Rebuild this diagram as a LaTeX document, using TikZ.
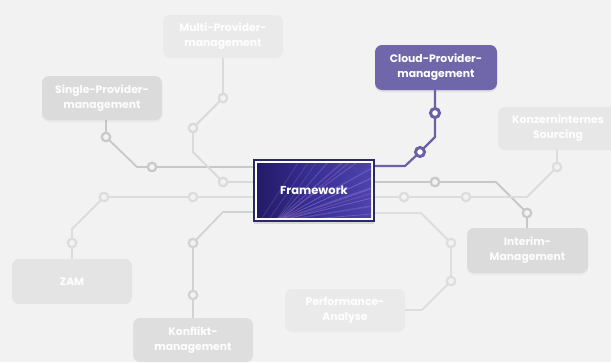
\documentclass[tikz,border=0pt]{standalone}
\usepackage{fontspec}
\setmainfont{Poppins}
\usetikzlibrary{shadows}
\definecolor{bgc}{HTML}{F2F2F2}
\definecolor{singleF}{HTML}{DBDBDB}\definecolor{singleL}{HTML}{C8C8C8}
\definecolor{multiF}{HTML}{EAEAEA}\definecolor{multiL}{HTML}{DADADA}
\definecolor{cloudF}{HTML}{6F67A9}\definecolor{cloudL}{HTML}{6A61A5}
\definecolor{konzF}{HTML}{E7E7E7}\definecolor{konzL}{HTML}{DCDCDC}
\definecolor{zamF}{HTML}{E4E4E4}\definecolor{zamL}{HTML}{DCDCDC}
\definecolor{konfF}{HTML}{DEDEDE}\definecolor{konfL}{HTML}{D2D2D2}
\definecolor{perfF}{HTML}{EAEAEA}\definecolor{perfL}{HTML}{DEDEDE}
\definecolor{intF}{HTML}{DBDBDB}\definecolor{intL}{HTML}{C8C8C8}
\definecolor{fwBorder}{HTML}{2B2868}
\definecolor{fwDark}{HTML}{231A66}
\definecolor{fwMid}{HTML}{3A2F96}
\definecolor{fwLight}{HTML}{4E42AC}
\definecolor{streak}{HTML}{A396E6}
\definecolor{pinkstreak}{HTML}{B46CC4}
\pgfdeclarelayer{bgl}\pgfdeclarelayer{lines}
\pgfsetlayers{bgl,lines,main}
\tikzset{
  box/.style={rounded corners=7pt, minimum width=120pt, minimum height=44pt,
    align=center, inner sep=0pt, text=white,
    font=\bfseries\fontsize{10.8}{15}\selectfont},
  dot/.style={circle, minimum size=8.5pt, inner sep=0pt, line width=2.2pt, fill=bgc},
  gl/.style={line width=1.8pt, line join=round},
}
\begin{document}
\begin{tikzpicture}[x=1pt,y=-1pt]
\begin{pgfonlayer}{bgl}
\fill[bgc] (0,0) rectangle (611,362);
\end{pgfonlayer}
\useasboundingbox (0,0) rectangle (611,362);

% boxes
\node[box, fill=multiF, minimum height=43pt, text=white!97!multiF] (multi) at (223,36.5) {Multi-Provider-\\management};
\node[box, fill=singleF, text=white!96!singleF, drop shadow={opacity=0.08,shadow xshift=0pt,shadow yshift=-2pt}] (single) at (102,98) {Single-Provider-\\management};
\node[box, fill=cloudF, minimum width=122pt, minimum height=45pt, drop shadow={opacity=0.15,shadow xshift=0pt,shadow yshift=-2pt}] (cloud) at (436,67.5) {Cloud-Provider-\\management};
\node[box, fill=konzF, minimum height=43pt, text=white!97!konzF] (konz) at (558,128.5) {Konzerninternes\\Sourcing};
\node[box, fill=zamF, minimum height=45pt, text=white!97!zamF] (zam) at (72,281.5) {ZAM};
\node[box, fill=konfF, text=white!96!konfF] (konf) at (193,340) {Konflikt-\\management};
\node[box, fill=perfF, minimum height=43pt, text=white!97!perfF] (perf) at (345,310.5) {Performance-\\Analyse};
\node[box, fill=intF, minimum width=121pt, minimum height=45pt, text=white!96!intF, drop shadow={opacity=0.08,shadow xshift=0pt,shadow yshift=-2pt}] (interim) at (527.5,250.5) {Interim-\\Management};

% framework
\node[draw=fwBorder, line width=1.6pt, fill=white, minimum width=120pt, minimum height=61pt, inner sep=0pt,
  drop shadow={opacity=0.22,shadow xshift=0pt,shadow yshift=-3pt}] (fw) at (314,190.5) {};
\begin{scope}
\clip (257,163.5) rectangle (371,217.5);
\shade[left color=fwDark, right color=fwLight, middle color=fwMid] (257,163.5) rectangle (371,217.5);
\foreach \ex/\ey/\o/\w in {330/160/0.35/0.8, 345/160/0.25/1.5, 360/160/0.4/0.7, 372/168/0.3/1.2,
  372/178/0.45/0.8, 372/188/0.3/2, 372/198/0.4/0.8, 372/206/0.25/1.5, 372/214/0.35/0.8, 318/160/0.25/0.6}{
  \draw[streak, opacity=\o, line width=\w pt] (275,222) -- (\ex,\ey);
}
\foreach \ex/\ey in {352/160, 372/193}{
  \draw[pinkstreak, opacity=0.35, line width=1pt] (278,222) -- (\ex,\ey);
}
\foreach \sx/\ex in {262/300, 270/310}{
  \draw[streak, opacity=0.25, line width=0.7pt] (\sx,218) -- (\ex,160);
}
\end{scope}
\node[text=white, font=\bfseries\fontsize{11.5}{13}\selectfont] (fwt) at (fw.center) {Framework};

% dots
\node[dot, draw=singleL] (s1) at (106,137) {};
\node[dot, draw=singleL] (s2) at (152,167) {};
\node[dot, draw=multiL] (m1) at (223,98) {};
\node[dot, draw=multiL] (m2) at (193,128) {};
\node[dot, draw=multiL] (m3) at (223,182) {};
\node[dot, draw=zamL] (z1) at (193,197) {};
\node[dot, draw=zamL] (z2) at (104,197) {};
\node[dot, draw=zamL] (z3) at (72,243) {};
\node[dot, draw=konfL] (k1) at (193,243) {};
\node[dot, draw=konfL] (k2) at (193,295) {};
\node[dot, draw=cloudL, line width=3pt, fill=white, minimum size=9pt] (c1) at (420,152) {};
\node[dot, draw=cloudL, line width=3pt, fill=white, minimum size=9pt] (c2) at (435,113) {};
\node[dot, draw=intL] (i1) at (435,182) {};
\node[dot, draw=intL] (i2) at (527,213) {};
\node[dot, draw=konzL] (n1) at (404,197) {};
\node[dot, draw=konzL] (n2) at (466,197) {};
\node[dot, draw=konzL] (n3) at (557,167) {};
\node[dot, draw=perfL] (p1) at (451,243) {};
\node[dot, draw=perfL] (p2) at (451,281) {};

\coordinate (ws) at (fw.west |- s2);
\coordinate (wm) at (fw.west |- m3);
\coordinate (wz) at (fw.west |- z1);
\begin{pgfonlayer}{lines}
\draw[gl, singleL] (single.south -| s1) -- (s1.center) -- (137,167) -- (s2.center) -- (ws);
\draw[gl, multiL] (multi.south -| m1) -- (m1.center) -- (m2.center) -- (193,152) -- (m3.center) -- (wm);
\draw[gl, zamL] (wz) -- (z1.center) -- (z2.center) -- (72,229) -- (z3.center) -- (zam.north);
\draw[gl, konfL] (fw.west |- 0,212) -- (223,212) -- (k1.center) -- (k2.center) -- (konf.north);
\draw[gl, cloudL, line width=2.2pt] (fw.east |- 0,166) -- (405,166) -- (c1.center) -- (435,137) -- (c2.center) -- (cloud.south -| c2);
\draw[gl, intL] (fw.east |- i1) -- (i1.center) -- (496,182) -- (i2.center) -- (interim.north -| i2);
\draw[gl, konzL] (fw.east |- n1) -- (n1.center) -- (n2.center) -- (527,197) -- (n3.center) -- (konz.south -| n3);
\draw[gl, perfL] (fw.east |- 0,213) -- (421,213) -- (p1.center) -- (p2.center) -- (422,310) -- (perf.east |- 0,310);
\end{pgfonlayer}
\end{tikzpicture}
\end{document}
